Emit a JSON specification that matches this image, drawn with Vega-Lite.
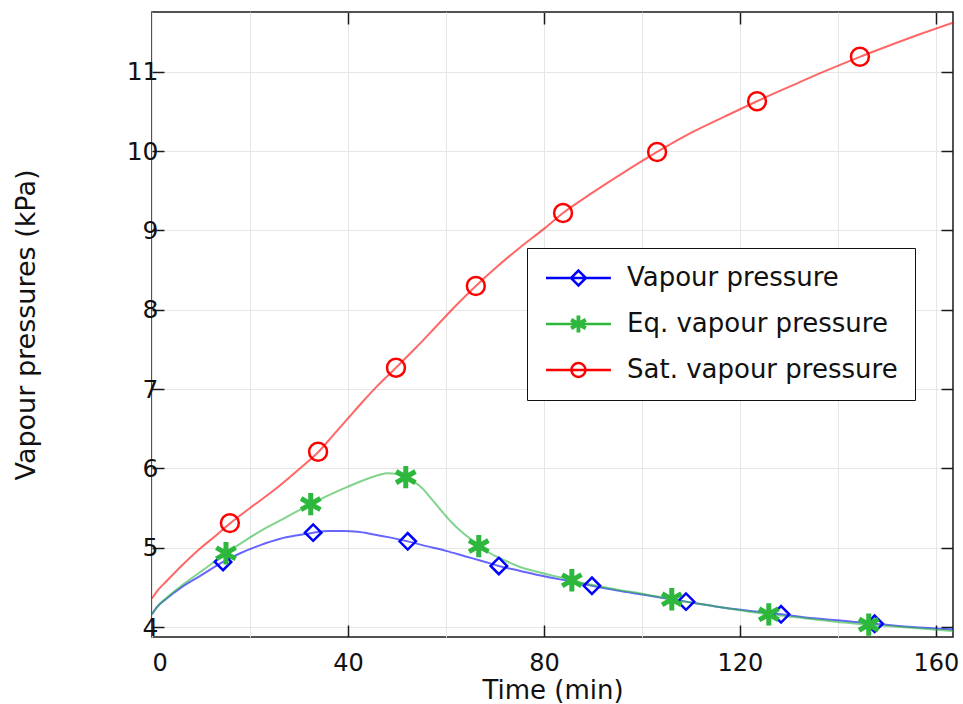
{
  "$schema": "https://vega.github.io/schema/vega-lite/v6.json",
  "width": 801,
  "height": 625,
  "autosize": {"type": "none"},
  "padding": {"left": 152, "top": 12, "right": 10, "bottom": 67},
  "background": "white",
  "config": {
    "font": "DejaVu Sans",
    "view": {"stroke": "#1a1a1a", "strokeWidth": 1.5},
    "axis": {"domain": false, "labelFont": "DejaVu Sans", "titleFont": "DejaVu Sans", "labelColor": "#111", "titleColor": "#111", "titleFontWeight": "normal", "tickColor": "#1a1a1a", "tickWidth": 1.5, "gridColor": "#e6e6e6", "gridWidth": 1},
    "legend": {"labelFont": "DejaVu Sans"}
  },
  "datasets": {
    "lines": [
      {"series": "Vapour pressure", "t": 0, "p": 4.16},
      {"series": "Vapour pressure", "t": 1, "p": 4.25},
      {"series": "Vapour pressure", "t": 3, "p": 4.36},
      {"series": "Vapour pressure", "t": 6, "p": 4.5},
      {"series": "Vapour pressure", "t": 10, "p": 4.65},
      {"series": "Vapour pressure", "t": 14.5, "p": 4.82},
      {"series": "Vapour pressure", "t": 18, "p": 4.93},
      {"series": "Vapour pressure", "t": 22, "p": 5.03},
      {"series": "Vapour pressure", "t": 26, "p": 5.11},
      {"series": "Vapour pressure", "t": 30, "p": 5.16},
      {"series": "Vapour pressure", "t": 32.9, "p": 5.19},
      {"series": "Vapour pressure", "t": 36, "p": 5.21},
      {"series": "Vapour pressure", "t": 39, "p": 5.21},
      {"series": "Vapour pressure", "t": 42, "p": 5.2},
      {"series": "Vapour pressure", "t": 45, "p": 5.17},
      {"series": "Vapour pressure", "t": 48.5, "p": 5.13},
      {"series": "Vapour pressure", "t": 52.2, "p": 5.08},
      {"series": "Vapour pressure", "t": 56, "p": 5.02},
      {"series": "Vapour pressure", "t": 60, "p": 4.96},
      {"series": "Vapour pressure", "t": 64, "p": 4.89},
      {"series": "Vapour pressure", "t": 67.5, "p": 4.83},
      {"series": "Vapour pressure", "t": 70.8, "p": 4.77},
      {"series": "Vapour pressure", "t": 75, "p": 4.71},
      {"series": "Vapour pressure", "t": 80, "p": 4.64},
      {"series": "Vapour pressure", "t": 85, "p": 4.58},
      {"series": "Vapour pressure", "t": 89.8, "p": 4.52},
      {"series": "Vapour pressure", "t": 95, "p": 4.46},
      {"series": "Vapour pressure", "t": 100, "p": 4.41},
      {"series": "Vapour pressure", "t": 104, "p": 4.37},
      {"series": "Vapour pressure", "t": 109, "p": 4.32},
      {"series": "Vapour pressure", "t": 115, "p": 4.26},
      {"series": "Vapour pressure", "t": 121, "p": 4.21},
      {"series": "Vapour pressure", "t": 128.4, "p": 4.16},
      {"series": "Vapour pressure", "t": 135, "p": 4.11},
      {"series": "Vapour pressure", "t": 141, "p": 4.08},
      {"series": "Vapour pressure", "t": 147.5, "p": 4.04},
      {"series": "Vapour pressure", "t": 155, "p": 4.0},
      {"series": "Vapour pressure", "t": 163.5, "p": 3.97},
      {"series": "Eq. vapour pressure", "t": 0, "p": 4.16},
      {"series": "Eq. vapour pressure", "t": 1, "p": 4.25},
      {"series": "Eq. vapour pressure", "t": 3, "p": 4.37},
      {"series": "Eq. vapour pressure", "t": 6, "p": 4.52},
      {"series": "Eq. vapour pressure", "t": 10, "p": 4.7},
      {"series": "Eq. vapour pressure", "t": 15.1, "p": 4.93},
      {"series": "Eq. vapour pressure", "t": 19, "p": 5.09},
      {"series": "Eq. vapour pressure", "t": 23, "p": 5.24},
      {"series": "Eq. vapour pressure", "t": 27, "p": 5.37},
      {"series": "Eq. vapour pressure", "t": 32.4, "p": 5.55},
      {"series": "Eq. vapour pressure", "t": 36, "p": 5.66},
      {"series": "Eq. vapour pressure", "t": 40, "p": 5.77},
      {"series": "Eq. vapour pressure", "t": 44, "p": 5.87},
      {"series": "Eq. vapour pressure", "t": 46.5, "p": 5.92},
      {"series": "Eq. vapour pressure", "t": 48, "p": 5.94},
      {"series": "Eq. vapour pressure", "t": 50, "p": 5.93},
      {"series": "Eq. vapour pressure", "t": 51.8, "p": 5.89},
      {"series": "Eq. vapour pressure", "t": 53.5, "p": 5.83},
      {"series": "Eq. vapour pressure", "t": 55, "p": 5.76},
      {"series": "Eq. vapour pressure", "t": 57, "p": 5.62},
      {"series": "Eq. vapour pressure", "t": 59, "p": 5.47},
      {"series": "Eq. vapour pressure", "t": 61, "p": 5.33},
      {"series": "Eq. vapour pressure", "t": 63, "p": 5.21},
      {"series": "Eq. vapour pressure", "t": 65, "p": 5.11},
      {"series": "Eq. vapour pressure", "t": 66.7, "p": 5.02},
      {"series": "Eq. vapour pressure", "t": 69, "p": 4.93},
      {"series": "Eq. vapour pressure", "t": 72, "p": 4.84},
      {"series": "Eq. vapour pressure", "t": 75, "p": 4.76},
      {"series": "Eq. vapour pressure", "t": 79, "p": 4.69},
      {"series": "Eq. vapour pressure", "t": 85.7, "p": 4.59},
      {"series": "Eq. vapour pressure", "t": 90, "p": 4.53},
      {"series": "Eq. vapour pressure", "t": 95, "p": 4.47},
      {"series": "Eq. vapour pressure", "t": 100, "p": 4.42},
      {"series": "Eq. vapour pressure", "t": 106.1, "p": 4.35},
      {"series": "Eq. vapour pressure", "t": 112, "p": 4.29},
      {"series": "Eq. vapour pressure", "t": 118, "p": 4.23},
      {"series": "Eq. vapour pressure", "t": 125.9, "p": 4.16},
      {"series": "Eq. vapour pressure", "t": 132, "p": 4.12},
      {"series": "Eq. vapour pressure", "t": 139, "p": 4.07},
      {"series": "Eq. vapour pressure", "t": 146.3, "p": 4.03},
      {"series": "Eq. vapour pressure", "t": 155, "p": 3.99},
      {"series": "Eq. vapour pressure", "t": 163.5, "p": 3.95},
      {"series": "Sat. vapour pressure", "t": 0, "p": 4.36},
      {"series": "Sat. vapour pressure", "t": 1, "p": 4.45},
      {"series": "Sat. vapour pressure", "t": 3, "p": 4.58},
      {"series": "Sat. vapour pressure", "t": 6, "p": 4.77},
      {"series": "Sat. vapour pressure", "t": 10, "p": 5.0},
      {"series": "Sat. vapour pressure", "t": 13, "p": 5.15},
      {"series": "Sat. vapour pressure", "t": 16, "p": 5.31},
      {"series": "Sat. vapour pressure", "t": 20, "p": 5.5},
      {"series": "Sat. vapour pressure", "t": 25, "p": 5.73},
      {"series": "Sat. vapour pressure", "t": 30, "p": 5.99},
      {"series": "Sat. vapour pressure", "t": 34, "p": 6.21},
      {"series": "Sat. vapour pressure", "t": 37, "p": 6.42},
      {"series": "Sat. vapour pressure", "t": 40, "p": 6.63},
      {"series": "Sat. vapour pressure", "t": 43, "p": 6.84},
      {"series": "Sat. vapour pressure", "t": 46, "p": 7.04},
      {"series": "Sat. vapour pressure", "t": 49.8, "p": 7.27},
      {"series": "Sat. vapour pressure", "t": 54, "p": 7.53},
      {"series": "Sat. vapour pressure", "t": 58, "p": 7.79},
      {"series": "Sat. vapour pressure", "t": 62, "p": 8.05},
      {"series": "Sat. vapour pressure", "t": 66.1, "p": 8.3},
      {"series": "Sat. vapour pressure", "t": 70, "p": 8.52},
      {"series": "Sat. vapour pressure", "t": 75, "p": 8.78},
      {"series": "Sat. vapour pressure", "t": 80, "p": 9.02},
      {"series": "Sat. vapour pressure", "t": 83.9, "p": 9.22},
      {"series": "Sat. vapour pressure", "t": 90, "p": 9.48},
      {"series": "Sat. vapour pressure", "t": 96, "p": 9.72},
      {"series": "Sat. vapour pressure", "t": 103.1, "p": 9.99},
      {"series": "Sat. vapour pressure", "t": 110, "p": 10.23},
      {"series": "Sat. vapour pressure", "t": 117, "p": 10.44},
      {"series": "Sat. vapour pressure", "t": 123.5, "p": 10.63},
      {"series": "Sat. vapour pressure", "t": 130, "p": 10.81},
      {"series": "Sat. vapour pressure", "t": 137, "p": 11.0},
      {"series": "Sat. vapour pressure", "t": 144.5, "p": 11.19},
      {"series": "Sat. vapour pressure", "t": 150, "p": 11.32},
      {"series": "Sat. vapour pressure", "t": 157, "p": 11.48},
      {"series": "Sat. vapour pressure", "t": 163.5, "p": 11.62}
    ],
    "markers": [
      {"series": "Vapour pressure", "t": 14.5, "p": 4.82},
      {"series": "Vapour pressure", "t": 32.9, "p": 5.19},
      {"series": "Vapour pressure", "t": 52.2, "p": 5.08},
      {"series": "Vapour pressure", "t": 70.8, "p": 4.77},
      {"series": "Vapour pressure", "t": 89.8, "p": 4.52},
      {"series": "Vapour pressure", "t": 109, "p": 4.32},
      {"series": "Vapour pressure", "t": 128.4, "p": 4.16},
      {"series": "Vapour pressure", "t": 147.5, "p": 4.04},
      {"series": "Eq. vapour pressure", "t": 15.1, "p": 4.93},
      {"series": "Eq. vapour pressure", "t": 32.4, "p": 5.55},
      {"series": "Eq. vapour pressure", "t": 51.8, "p": 5.89},
      {"series": "Eq. vapour pressure", "t": 66.7, "p": 5.02},
      {"series": "Eq. vapour pressure", "t": 85.7, "p": 4.59},
      {"series": "Eq. vapour pressure", "t": 106.1, "p": 4.35},
      {"series": "Eq. vapour pressure", "t": 125.9, "p": 4.16},
      {"series": "Eq. vapour pressure", "t": 146.3, "p": 4.03},
      {"series": "Sat. vapour pressure", "t": 15.9, "p": 5.31},
      {"series": "Sat. vapour pressure", "t": 33.9, "p": 6.21},
      {"series": "Sat. vapour pressure", "t": 49.8, "p": 7.27},
      {"series": "Sat. vapour pressure", "t": 66.1, "p": 8.3},
      {"series": "Sat. vapour pressure", "t": 83.9, "p": 9.22},
      {"series": "Sat. vapour pressure", "t": 103.1, "p": 9.99},
      {"series": "Sat. vapour pressure", "t": 123.5, "p": 10.63},
      {"series": "Sat. vapour pressure", "t": 144.5, "p": 11.19}
    ]
  },
  "layer": [
    {
      "data": {"name": "lines"},
      "transform": [{"filter": "datum.series === 'Vapour pressure'"}],
      "mark": {"type": "line", "interpolate": "monotone", "strokeWidth": 2, "stroke": "#0000ff", "opacity": 0.6, "clip": true},
      "encoding": {
        "x": {"field": "t", "type": "quantitative", "scale": {"domain": [0, 163.5], "nice": false, "zero": false},
          "axis": {"orient": "bottom", "title": "Time (min)", "titleFontSize": 26, "labelFontSize": 24, "titlePadding": 2,
            "values": [0, 20, 40, 60, 80, 100, 120, 140, 160], "grid": true, "tickSize": -12, "labelPadding": 26,
            "labelExpr": "datum.value % 40 === 0 ? datum.label : ''",
            "tickColor": {"condition": {"test": "datum.value % 40 === 0 && datum.value > 0", "value": "#1a1a1a"}, "value": "transparent"}}},
        "y": {"field": "p", "type": "quantitative", "scale": {"domain": [3.874, 11.755], "nice": false, "zero": false},
          "axis": {"orient": "left", "title": "Vapour pressures (kPa)", "titleFontSize": 27, "labelFontSize": 25, "titlePadding": 86,
            "values": [4, 5, 6, 7, 8, 9, 10, 11], "grid": true, "tickSize": -12, "labelPadding": 6}}
      }
    },
    {
      "data": {"name": "lines"},
      "transform": [{"filter": "datum.series === 'Eq. vapour pressure'"}],
      "mark": {"type": "line", "interpolate": "monotone", "strokeWidth": 2, "stroke": "#2db83d", "opacity": 0.6, "clip": true},
      "encoding": {
        "x": {"field": "t", "type": "quantitative", "axis": null},
        "y": {"field": "p", "type": "quantitative", "axis": null}
      }
    },
    {
      "data": {"name": "lines"},
      "transform": [{"filter": "datum.series === 'Sat. vapour pressure'"}],
      "mark": {"type": "line", "interpolate": "monotone", "strokeWidth": 2, "stroke": "#ff0000", "opacity": 0.6, "clip": true},
      "encoding": {
        "x": {"field": "t", "type": "quantitative", "axis": null},
        "y": {"field": "p", "type": "quantitative", "axis": null}
      }
    },
    {
      "data": {"name": "markers"},
      "transform": [{"filter": "datum.series === 'Vapour pressure'"}],
      "mark": {"type": "point", "shape": "diamond", "size": 270, "filled": false, "stroke": "#0000ff", "strokeWidth": 2.5, "opacity": 1},
      "encoding": {
        "x": {"field": "t", "type": "quantitative", "axis": {"orient": "top", "title": null, "labels": false, "grid": false, "values": [40, 80, 120, 160], "tickSize": -12}},
        "y": {"field": "p", "type": "quantitative", "axis": {"orient": "right", "title": null, "labels": false, "grid": false, "values": [4, 5, 6, 7, 8, 9, 10, 11], "tickSize": -12}}
      }
    },
    {
      "data": {"name": "markers"},
      "transform": [{"filter": "datum.series === 'Eq. vapour pressure'"}],
      "mark": {"type": "point", "shape": "M0,-1V1M-0.866,-0.5L0.866,0.5M-0.866,0.5L0.866,-0.5", "size": 500, "filled": false, "stroke": "#2db83d", "strokeWidth": 5, "opacity": 1},
      "encoding": {
        "x": {"field": "t", "type": "quantitative", "axis": null},
        "y": {"field": "p", "type": "quantitative", "axis": null}
      }
    },
    {
      "data": {"name": "markers"},
      "transform": [{"filter": "datum.series === 'Sat. vapour pressure'"}],
      "mark": {"type": "point", "shape": "circle", "size": 320, "filled": false, "stroke": "#ff0000", "strokeWidth": 2.5, "opacity": 1},
      "encoding": {
        "x": {"field": "t", "type": "quantitative", "axis": null},
        "y": {"field": "p", "type": "quantitative", "axis": null}
      }
    },
    {
      "data": {"name": "markers"},
      "transform": [{"filter": "datum.t < 0"}],
      "mark": {"type": "point", "filled": false, "strokeWidth": 2.5, "opacity": 1},
      "encoding": {
        "x": {"field": "t", "type": "quantitative", "axis": null},
        "y": {"field": "p", "type": "quantitative", "axis": null},
        "color": {"field": "series", "type": "nominal",
          "scale": {"domain": ["Vapour pressure", "Eq. vapour pressure", "Sat. vapour pressure"], "range": ["#0000ff", "#2db83d", "#ff0000"]},
          "legend": {"title": null, "orient": "none", "legendX": 375, "legendY": 236, "labelLimit": 500,
            "labelFontSize": 26, "labelColor": "#111", "symbolSize": 484, "symbolStrokeWidth": 2.5, "symbolOpacity": 1, "labelOffset": 57,
            "rowPadding": 19, "padding": 17, "strokeColor": "#111", "fillColor": "white"}},
        "shape": {"field": "series", "type": "nominal",
          "scale": {"domain": ["Vapour pressure", "Eq. vapour pressure", "Sat. vapour pressure"],
            "range": ["M-1,0H4.9M1.95,-0.68L2.63,0L1.95,0.68L1.27,0Z", "M-1,0H4.9M1.89,-0.77V0.77M2.01,-0.77V0.77M1.283,-0.385L2.617,0.385M1.313,-0.437L2.647,0.333M1.253,-0.333L2.587,0.437M1.283,0.385L2.617,-0.385M1.313,0.437L2.647,-0.333M1.253,0.333L2.587,-0.437", "M-1,0H4.9M2.59,0A0.64,0.64,0,1,1,1.31,0A0.64,0.64,0,1,1,2.59,0"]},
          "legend": {"title": null, "orient": "none", "legendX": 375, "legendY": 236, "labelLimit": 500,
            "labelFontSize": 26, "labelColor": "#111", "symbolSize": 484, "symbolStrokeWidth": 2.5, "symbolOpacity": 1, "labelOffset": 57,
            "rowPadding": 19, "padding": 17, "strokeColor": "#111", "fillColor": "white"}}
      }
    }
  ],
  "resolve": {"axis": {"x": "independent", "y": "independent"}}
}
